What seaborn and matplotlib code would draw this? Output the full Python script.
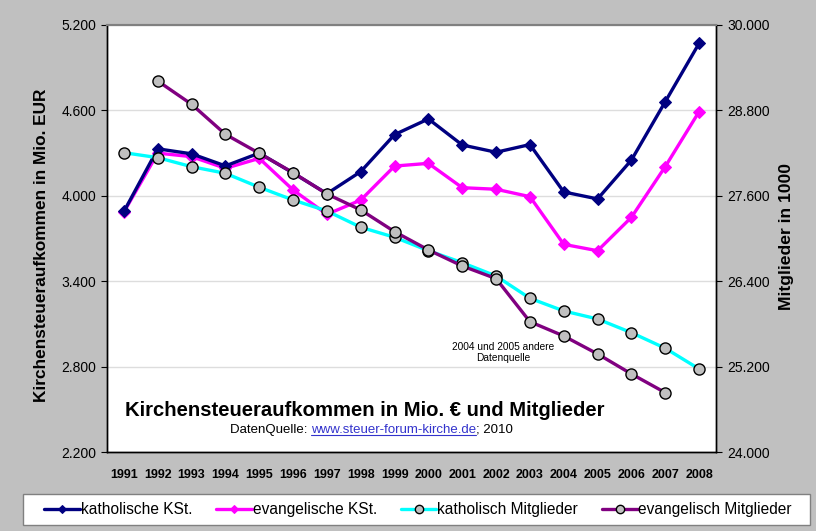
import matplotlib
matplotlib.use("Agg")
import matplotlib.pyplot as plt
import matplotlib.ticker as mticker
from matplotlib.patches import Rectangle
import seaborn as sns
import pandas as pd

years = list(range(1991, 2009))
kath_kst = [3890, 4330, 4295, 4210, 4300, 4160, 4015, 4170, 4430, 4540,
            4357, 4306, 4360, 4027, 3978, 4251, 4661, 5071]
evang_kst = [3886, 4300, 4275, 4193, 4263, 4041, 3870, 3970, 4209, 4228,
             4057, 4046, 3994, 3659, 3614, 3849, 4205, 4591]
kath_mitgl = [28206, 28136, 28009, 27916, 27720, 27541, 27387, 27158, 27017, 26829,
              26660, 26473, 26160, 25982, 25869, 25677, 25458, 25167]
evang_years = list(range(1992, 2008))
evang_mitgl = [29213, 28886, 28464, 28197, 27925, 27626, 27401, 27096, 26839,
               26614, 26436, 25831, 25630, 25378, 25097, 24834]

left_ticks = [2200, 2800, 3400, 4000, 4600, 5200]
right_ticks = [24000, 25200, 26400, 27600, 28800, 30000]

sns.set_style("white")
plt.rcParams['font.family'] = ['Liberation Sans', 'DejaVu Sans']
plt.rcParams['text.color'] = 'black'
plt.rcParams['xtick.color'] = 'black'
plt.rcParams['ytick.color'] = 'black'
plt.rcParams['axes.labelcolor'] = 'black'

W, H = 816, 531
fig = plt.figure(figsize=(W / 100, H / 100), dpi=100)
fig.patch.set_facecolor("#C0C0C0")
ax = fig.add_axes([107 / W, 79 / H, 609 / W, 427 / H])
ax.set_facecolor("white")
ax2 = ax.twinx()
ax2.patch.set_visible(False)

df_k = pd.DataFrame({"Jahr": years, "kath": kath_kst, "evang": evang_kst, "kathm": kath_mitgl})
df_e = pd.DataFrame({"Jahr": evang_years, "evangm": evang_mitgl})

sns.lineplot(data=df_k, x="Jahr", y="evang", ax=ax, color="#FF00FF", lw=2.4,
             marker="D", markersize=6, markeredgecolor="#FF00FF", label="evangelische KSt.", zorder=3)
sns.lineplot(data=df_k, x="Jahr", y="kath", ax=ax, color="#000080", lw=2.4,
             marker="D", markersize=6, markeredgecolor="#000080", label="katholische KSt.", zorder=4)
sns.lineplot(data=df_k, x="Jahr", y="kathm", ax=ax2, color="#00FFFF", lw=2.4,
             marker="o", markersize=8, markerfacecolor="#C0C0C0", markeredgecolor="black",
             markeredgewidth=1, label="katholisch Mitglieder", zorder=3)
sns.lineplot(data=df_e, x="Jahr", y="evangm", ax=ax2, color="#800080", lw=2.4,
             marker="o", markersize=8, markerfacecolor="#C0C0C0", markeredgecolor="black",
             markeredgewidth=1, label="evangelisch Mitglieder", zorder=4)

for a in (ax, ax2):
    if a.get_legend() is not None:
        a.get_legend().remove()
    a.set_xlabel("")
    a.set_ylabel("")

fmt = mticker.FuncFormatter(lambda v, p: f"{v:,.0f}".replace(",", "."))
ax.set_ylim(2200, 5200)
ax.set_yticks(left_ticks)
ax.yaxis.set_major_formatter(fmt)
ax2.set_ylim(24000, 30000)
ax2.set_yticks(right_ticks)
ax2.yaxis.set_major_formatter(fmt)
ax.set_xlim(1990.5, 2008.5)
ax.set_xticks(years)
ax.set_xticklabels([str(y) for y in years], fontweight="bold", fontsize=9)
ax.set_xticks([y - 0.5 for y in years] + [2008.5], minor=True)
ax.tick_params(axis="x", which="major", length=0, pad=12)
ax.tick_params(axis="x", which="minor", length=4, width=0.8, color="black", direction="out")
ax.tick_params(axis="y", length=4, width=0.8, direction="out", labelsize=10, pad=4, left=True)
ax2.tick_params(axis="y", length=4, width=0.8, direction="out", labelsize=10, pad=4, right=True)

ax.grid(axis="y", color="#DDDDDD", lw=1)
ax.set_axisbelow(True)
for a in (ax, ax2):
    a.spines["top"].set_color("#808080")
    a.spines["top"].set_linewidth(1.5)
    for s in ("left", "right", "bottom"):
        a.spines[s].set_color("black")
        a.spines[s].set_linewidth(1)

fig.text(42 / W, 1 - 245 / H, "Kirchensteueraufkommen in Mio. EUR", rotation=90,
         ha="center", va="center", fontsize=12.4, fontweight="bold")
fig.text(786 / W, 1 - 237 / H, "Mitglieder in 1000", rotation=90,
         ha="center", va="center", fontsize=12.6, fontweight="bold")

ax.text(0.424, 0.098, "Kirchensteueraufkommen in Mio. € und Mitglieder", transform=ax.transAxes,
        ha="center", va="center", fontsize=14.6, fontweight="bold")
ax2.text(2002.2, 25400, "2004 und 2005 andere\nDatenquelle", ha="center", va="center",
         fontsize=7.3, linespacing=1.1)

# Quellenzeile mit unterstrichenem Link
fig.canvas.draw()
renderer = fig.canvas.get_renderer()
x0, y0 = 230 / W, 1 - 430 / H
t1 = fig.text(x0, y0, "DatenQuelle: ", ha="left", va="center", fontsize=9.5)
b1 = t1.get_window_extent(renderer)
t2 = fig.text(b1.x1 / W, y0, "www.steuer-forum-kirche.de", ha="left", va="center",
              fontsize=9.5, color="#3333CC")
b2 = t2.get_window_extent(renderer)
fig.text(b2.x1 / W, y0, "; 2010", ha="left", va="center", fontsize=9.5)
fig.add_artist(plt.Line2D([b2.x0 / W, b2.x1 / W], [(b2.y0 + 1) / H] * 2, color="#3333CC", lw=0.8))

# Legende mit eigenem Rahmen
fig.add_artist(Rectangle((23 / W, 6 / H), 787 / W, 31 / H, transform=fig.transFigure,
                         facecolor="white", edgecolor="#808080", lw=1, zorder=1))
handles, labels = [], []
for a in (ax, ax2):
    h, l = a.get_legend_handles_labels()
    handles += h
    labels += l
order = ["katholische KSt.", "evangelische KSt.", "katholisch Mitglieder", "evangelisch Mitglieder"]
hl = dict(zip(labels, handles))
leg = fig.legend([hl[k] for k in order], order, loc="center left", ncol=4, mode="expand",
                 bbox_to_anchor=(44 / W, 21.5 / H, 748 / W, 0), frameon=False,
                 fontsize=11.2, handlelength=2.3, handletextpad=0.05, borderaxespad=0,
                 borderpad=0, markerscale=0.75)
leg.set_zorder(2)

fig.savefig("out.png", dpi=100, facecolor=fig.get_facecolor())
